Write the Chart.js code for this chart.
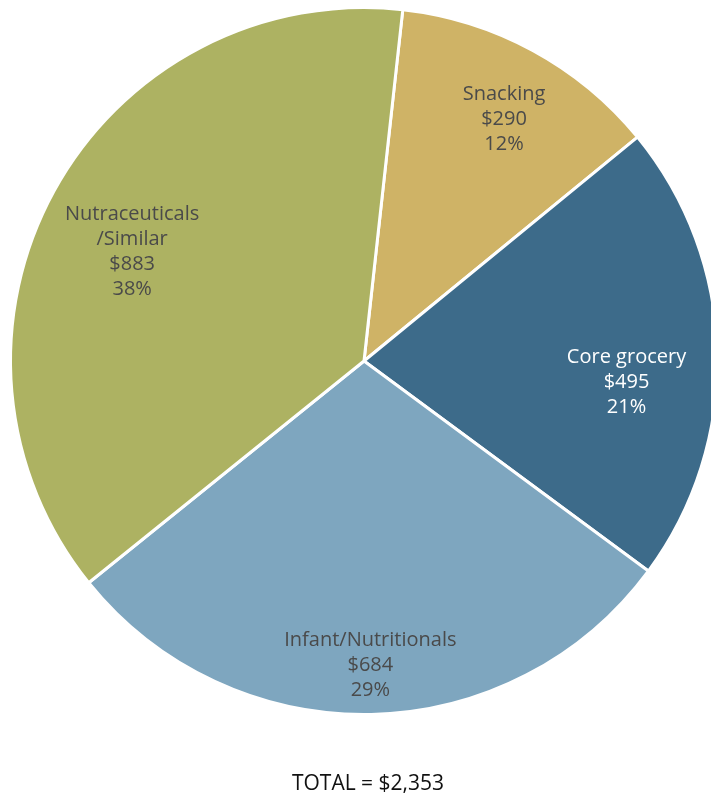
<!DOCTYPE html>
<html>
<head>
<meta charset="utf-8">
<script src="https://cdn.jsdelivr.net/npm/chart.js@4"></script>
<style>
  html, body { margin: 0; padding: 0; background: #fff; overflow: hidden; }
  #wrap { width: 730px; height: 800px; position: relative; }
</style>
</head>
<body>
<div id="wrap"><canvas id="pieChart" width="730" height="800"></canvas></div>
<script>
// Data
var categories = ['Snacking', 'Core grocery', 'Infant/Nutritionals', 'Nutraceuticals\n/Similar'];
var amounts = [290, 495, 684, 883];
var valueLabels = ['$290', '$495', '$684', '$883'];
var percentLabels = ['12%', '21%', '29%', '38%'];
var totalLabel = 'TOTAL = $2,353';

var sliceColors = ['#cfb366', '#3d6b8a', '#7ea6bf', '#adb262'];
var textColors = ['#4a4a4a', '#ffffff', '#4a4a4a', '#4a4a4a'];
// how far out from the centre each label sits (fraction of radius)
var labelRadius = [0.79, 0.745, 0.861, 0.725];
var labelTurn = [1.6, 6, 0, -3.5]; // small angular nudges, degrees

var sliceLabels = {
    id: 'sliceLabels',
    afterDatasetsDraw: function (chart) {
        var ctx = chart.ctx;
        var arcs = chart.getDatasetMeta(0).data;
        ctx.save();
        ctx.font = '20px "Open Sans", sans-serif';
        ctx.textAlign = 'center';
        ctx.textBaseline = 'middle';
        arcs.forEach(function (arc, i) {
            var p = arc.getProps(['x', 'y', 'startAngle', 'endAngle', 'outerRadius']);
            var mid = (p.startAngle + p.endAngle) / 2 + labelTurn[i] * Math.PI / 180;
            var r = p.outerRadius * labelRadius[i];
            var cx = p.x + Math.cos(mid) * r;
            var cy = p.y + Math.sin(mid) * r;
            var lines = categories[i].split('\n').concat([valueLabels[i], percentLabels[i]]);
            var lh = 25;
            var top = cy - (lines.length - 1) * lh / 2;
            ctx.fillStyle = textColors[i];
            lines.forEach(function (t, j) {
                ctx.fillText(t, cx, top + j * lh);
            });
        });
        // total under the pie
        ctx.fillStyle = '#111';
        ctx.font = '21px "Open Sans", sans-serif';
        ctx.fillText(totalLabel, 368, 784);
        ctx.restore();
    }
};

var ctx = document.getElementById('pieChart');
var chart = new Chart(ctx, {
    type: 'pie',
    data: {
        labels: categories,
        datasets: [{
            data: amounts,
            backgroundColor: sliceColors,
            borderColor: '#ffffff',
            borderWidth: 3
        }]
    },
    options: {
        responsive: false,
        animation: false,
        rotation: 6.3,
        layout: {
            padding: { left: 8, right: 10, top: 6, bottom: 84 }
        },
        plugins: {
            legend: { display: false },
            tooltip: { enabled: false }
        }
    },
    plugins: [sliceLabels]
});
</script>
</body>
</html>
